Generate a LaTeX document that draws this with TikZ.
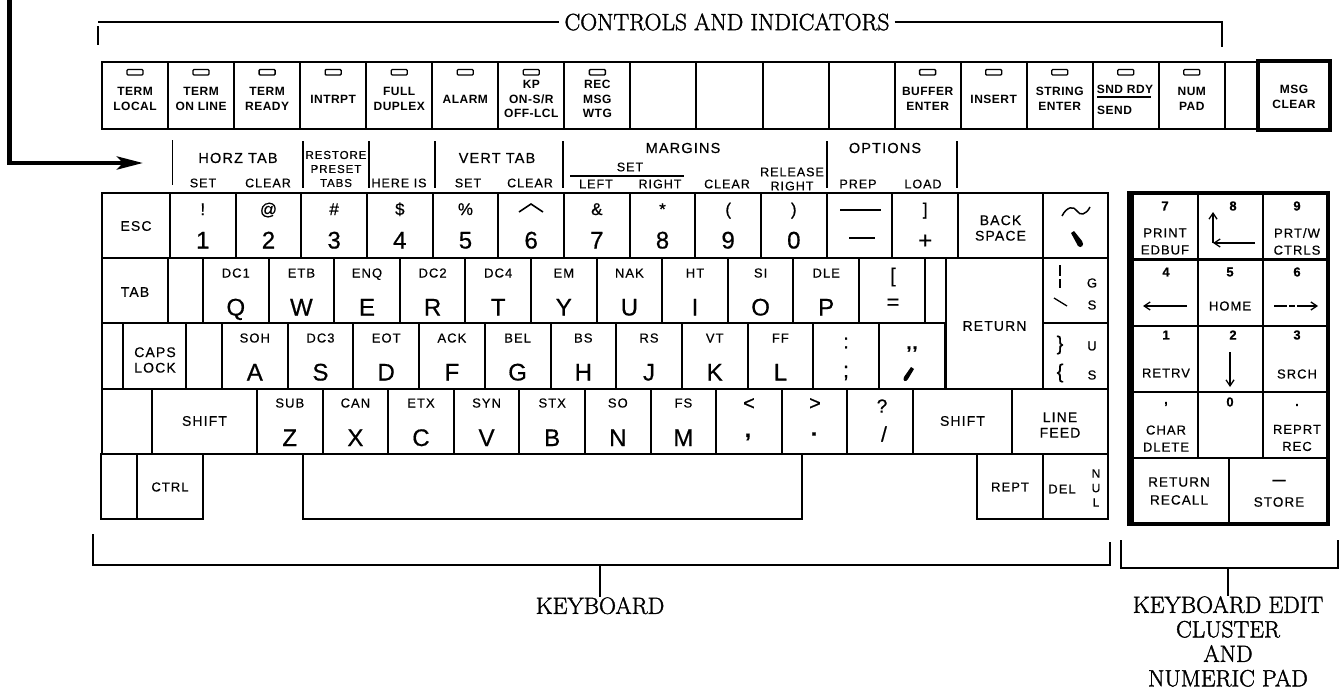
\documentclass[tikz,border=0pt]{standalone}
\usepackage{fontspec}
\usetikzlibrary{arrows.meta}
\newfontfamily\kf[LetterSpace=8,FakeBold=0.5]{Liberation Sans}
\newfontfamily\kfn[FakeBold=0.6]{Liberation Sans}
\newfontfamily\kfi[LetterSpace=4]{Liberation Sans}
\newfontfamily\hdf[FakeBold=1.6]{Latin Modern Roman}
\newcommand\fsz[2]{\fontsize{#1}{#2}\selectfont}
\begin{document}
\begin{tikzpicture}[x=1pt,y=-1pt,
  keyl/.style={draw,line width=2pt},
  thk/.style={draw,line width=4pt},
  sm/.style={font=\kf\fsz{13}{15}, inner sep=0pt, anchor=base},
  bigl/.style={font=\kfn\fsz{24}{26}, inner sep=0pt, anchor=base},
  sym/.style={font=\kfn\fsz{17}{19}, inner sep=0pt, anchor=base},
  wl/.style={font=\kf\fsz{14}{15.5}, inner sep=0pt, align=center},
  ind/.style={font=\kfi\bfseries\fsz{12}{14.5}, inner sep=0pt, align=center},
  hl/.style={font=\kf\fsz{14.5}{16}, inner sep=0pt},
  sl/.style={font=\kf\fsz{12.5}{14}, inner sep=0pt, align=center},
  np/.style={font=\kf\fsz{13}{17}, inner sep=0pt, align=center},
  npd/.style={font=\kfn\bfseries\fsz{13}{15}, inner sep=0pt},
  hd/.style={font=\hdf\fsz{23.5}{24.5}, inner sep=0pt, align=center},
  led/.style={draw,line width=1.3pt,rounded corners=1pt},
  sepl/.style={draw,line width=1.5pt},
  brk/.style={draw,line width=2.2pt},
  ar/.style={draw,line width=1.3pt,-{Straight Barb[length=6pt,width=8pt]}}
]
\useasboundingbox (0,0) rectangle (1341,691);

% ---------- CONTROLS AND INDICATORS bracket
\node[hd, inner sep=5pt] (ctl) at (727,22) {CONTROLS AND INDICATORS};
\draw[brk] (98,26) -- (98,45);
\coordinate (tl) at (98,22);
\coordinate (tr) at (1222,22);
\draw[brk] (tl) -- (ctl.west);
\draw[brk] (ctl.east) -- (tr) -- ++(0,25);

% ---------- left arrow
\coordinate (a0) at (9.5,0);
\coordinate (a1) at (143,163);
\draw[line width=4.5pt,-{Stealth[length=26pt,width=13pt,inset=6pt]}] (a0) |- (a1);

% ---------- indicator row
\foreach \i in {0,...,16}{\draw[keyl] ({102+\i*66.05},62) rectangle ({168.05+\i*66.05},129);}
\draw[keyl] (1224.85,62) rectangle (1258,129);
\draw[thk] (1258,61) rectangle (1330,130);
\foreach \i in {0,...,7,12,13,14,15,16}{\draw[led] ({127+\i*66.05},69.5) rectangle ++(16,5.5);}
\foreach \i/\t in {0/{TERM\\LOCAL},1/{TERM\\ON LINE},2/{TERM\\READY},3/{INTRPT},4/{FULL\\DUPLEX},5/{ALARM},6/{KP\\ON-S/R\\OFF-LCL},7/{REC\\MSG\\WTG},12/{BUFFER\\ENTER},13/{INSERT},14/{STRING\\ENTER},16/{NUM\\PAD}}
  {\node[ind] (ind\i) at ({135.03+\i*66.05},99) {\t};}
\node[ind] (snd) at (1125,89) {SND RDY};
\node[ind, anchor=west] (send) at (1097,110) {SEND};
\draw[line width=1.3pt] (1097,97) -- (1151,97);
\node[ind] (msg) at (1294,97) {MSG\\CLEAR};

% ---------- function label row
\draw[line width=1pt] (172,140) -- (172,185);
\foreach \x in {303,369,435,563,827,957}{\draw[sepl] (\x,141) -- (\x,188);}
\node[hl] (horz) at (238,158) {HORZ TAB};
\node[sl] (hset) at (203,183) {SET};
\node[sl] (hclr) at (268,183) {CLEAR};
\node[sl, font=\kf\fsz{11.5}{14}] (rst) at (336,169) {RESTORE\\PRESET\\TABS};
\node[sl] (here) at (399,183) {HERE IS};
\node[hl] (vert) at (497,158) {VERT TAB};
\node[sl] (vset) at (468,183) {SET};
\node[sl] (vclr) at (530,183) {CLEAR};
\node[hl] (marg) at (683,148) {MARGINS};
\node[sl] (mset) at (630,167) {SET};
\draw[line width=1.3pt] (570,176) -- (684,176);
\node[sl] (mlft) at (596,184) {LEFT};
\node[sl] (mrgt) at (660,184) {RIGHT};
\node[sl] (mclr) at (727,184) {CLEAR};
\node[sl] (rel) at (792,179) {RELEASE\\RIGHT};
\node[hl] (opt) at (885,148) {OPTIONS};
\node[sl] (prep) at (858,184) {PREP};
\node[sl] (load) at (923,184) {LOAD};

% ---------- row 0
\draw[keyl] (102,193) rectangle (170,258.2);
\node[wl] (esc) at (136,226) {ESC};
\foreach \i/\s/\m in {0/{!}/1,1/{@}/2,2/{\#}/3,3/{\$}/4,4/{\%}/5,5/{}/6,6/{\&}/7,7/{*}/8,8/{(}/9,9/{)}/0,10/{}/{},11/{]}/{+}}{
  \pgfmathsetmacro\xl{170+\i*65.67}
  \draw[keyl] (\xl,193) rectangle ++(65.67,65.2);
  \node[sym] (ns\i) at (\xl+32.8,215) {\s};
  \node[bigl] (nb\i) at (\xl+32.8,248.5) {\m};
}
\draw[line width=1.6pt] (519,212) -- (531,204) -- (543,212);
\draw[line width=2pt] (840,210) -- (881,210);
\draw[line width=2pt] (849,238) -- (875,238);
\draw[keyl] (958,193) rectangle (1043,258.2);
\node[wl] (bs) at (1000.5,228) {BACK\\SPACE};
\draw[keyl] (1043,193) rectangle (1108,258.2);
\draw[line width=1.5pt] (1062,216) .. controls (1067,206) and (1074,206) .. (1077,211) .. controls (1080,216) and (1086,215) .. (1090,207);
\fill (1071,233) -- (1074,231) -- (1082,241) .. controls (1085,245) and (1081,249) .. (1078,246) -- cycle;

% ---------- row 1
\draw[keyl] (102,258.2) rectangle (168,323.4);
\node[wl] (tab) at (135,292) {TAB};
\draw[keyl] (168,258.2) rectangle (203,323.4);
\foreach \i/\s/\m in {0/DC1/Q,1/ETB/W,2/ENQ/E,3/DC2/R,4/DC4/T,5/EM/Y,6/NAK/U,7/HT/I,8/SI/O,9/DLE/P}{
  \pgfmathsetmacro\xl{203+\i*65.6}
  \draw[keyl] (\xl,258.2) rectangle ++(65.6,65.2);
  \node[sm] (qs\i) at (\xl+32.8,277.5) {\s};
  \node[bigl] (qb\i) at (\xl+32.8,315.5) {\m};
}
\draw[keyl] (859,258.2) rectangle (924.6,323.4);
\node[font=\kfn\fsz{20}{22}, inner sep=0pt] (lbk) at (893,277) {[};
\node[font=\kfn\fsz{22}{24}, inner sep=0pt] (eq) at (893,304) {=};
\draw[keyl] (924.6,258.2) rectangle (946,323.4);
\draw[keyl] (946,258.2) rectangle (1043,388.6);
\node[wl] (ret) at (994.5,326) {RETURN};
\draw[keyl] (1043,258.2) rectangle (1108,323.4);
\draw[line width=1.3pt] (1060,265) -- (1060,276) (1060,279) -- (1060,288);
\draw[line width=1.3pt] (1054,298) -- (1067,306);
\node[sm, anchor=center] (gsg) at (1092,283) {G};
\node[sm, anchor=center] (gss) at (1092,305) {S};

% ---------- row 2
\draw[keyl] (102,323.4) rectangle (123,388.6);
\draw[keyl] (123,323.4) rectangle (186,388.6);
\node[wl] (caps) at (155,360) {CAPS\\LOCK};
\draw[keyl] (186,323.4) rectangle (222,388.6);
\foreach \i/\s/\m in {0/SOH/A,1/DC3/S,2/EOT/D,3/ACK/F,4/BEL/G,5/BS/H,6/RS/J,7/VT/K,8/FF/L}{
  \pgfmathsetmacro\xl{222+\i*65.7}
  \draw[keyl] (\xl,323.4) rectangle ++(65.7,65.2);
  \node[sm] (as\i) at (\xl+32.8,342.5) {\s};
  \node[bigl] (ab\i) at (\xl+32.8,380.5) {\m};
}
\draw[keyl] (813.3,323.4) rectangle (879,388.6);
\node[font=\kfn\fsz{20}{22}, inner sep=0pt] (col) at (846,343) {:};
\node[font=\kfn\fsz{22}{24}, inner sep=0pt] (scl) at (846,373) {;};
\draw[keyl] (879,323.4) rectangle (944.7,388.6);
\node[font=\kfn\bfseries\fsz{18}{20}, inner sep=0pt] (dq) at (912,349) {,\kern1pt,};
\fill (911,367) -- (914,369) -- (908,379) .. controls (906,383) and (902,381) .. (904,377) -- cycle;
\draw[keyl] (1043,323.4) rectangle (1108,388.6);
\node[font=\kfn\fsz{20}{22}, inner sep=0pt] (rbr) at (1060,345) {\}};
\node[font=\kfn\fsz{20}{22}, inner sep=0pt] (lbr) at (1060,373) {\{};
\node[sm, anchor=center] (uu) at (1092,346) {U};
\node[sm, anchor=center] (us) at (1092,375) {S};

% ---------- row 3
\draw[keyl] (102,388.6) rectangle (152,453.8);
\draw[keyl] (152,388.6) rectangle (257,453.8);
\node[wl] (lsh) at (204.5,421) {SHIFT};
\foreach \i/\s/\m in {0/SUB/Z,1/CAN/X,2/ETX/C,3/SYN/V,4/STX/B,5/SO/N,6/FS/M}{
  \pgfmathsetmacro\xl{257+\i*65.6}
  \draw[keyl] (\xl,388.6) rectangle ++(65.6,65.2);
  \node[sm] (zs\i) at (\xl+32.8,407.5) {\s};
  \node[bigl] (zb\i) at (\xl+32.8,446) {\m};
}
\draw[keyl] (716.2,388.6) rectangle (781.8,453.8);
\node[font=\kfn\fsz{20}{22}, inner sep=0pt] (lt) at (749,404) {<};
\node[font=\kfn\bfseries\fsz{22}{24}, inner sep=0pt] (cm) at (748,437) {,};
\draw[keyl] (781.8,388.6) rectangle (847.4,453.8);
\node[font=\kfn\fsz{20}{22}, inner sep=0pt] (gt) at (815,404) {>};
\node[font=\kfn\bfseries\fsz{22}{24}, inner sep=0pt] (pt) at (814,434) {.};
\draw[keyl] (847.4,388.6) rectangle (913,453.8);
\node[font=\kfn\fsz{19}{22}, inner sep=0pt] (qm) at (882,406) {?};
\node[font=\kfn\fsz{21}{22}, inner sep=0pt] (sl) at (884,434) {/};
\draw[keyl] (913,388.6) rectangle (1012,453.8);
\node[wl] (rsh) at (962.5,421) {SHIFT};
\draw[keyl] (1012,388.6) rectangle (1108,453.8);
\node[wl] (lf) at (1060,425) {LINE\\FEED};

% ---------- row 4
\draw[keyl] (101,453.8) rectangle (137,519);
\draw[keyl] (137,453.8) rectangle (203,519);
\node[wl, font=\kf\fsz{13}{15}] (ctrl) at (170,487) {CTRL};
\draw[keyl] (303,453.8) -- (303,519) -- (802,519) -- (802,453.8);
\draw[keyl] (977,453.8) rectangle (1043,519);
\node[wl, font=\kf\fsz{13}{15}] (rept) at (1010,487) {REPT};
\draw[keyl] (1043,453.8) rectangle (1108,519);
\node[wl, font=\kf\fsz{13}{15}] (del) at (1062,489) {DEL};
\node[wl, font=\kfn\fsz{12}{14.5}] (nul) at (1096,488) {N\\U\\L};

% ---------- numeric pad
\draw[line width=1.8pt] (1198,193) -- (1198,458) (1263,193) -- (1263,458) (1229,458) -- (1229,524);
\foreach \y in {259.5,326,392,458}{\draw[line width=2.8pt] (1129,\y) -- (1328,\y);}
\draw[line width=3.5pt] (1129,193) rectangle (1328,524);
\draw[line width=6pt] (1131,193) -- (1131,524);
\node[npd] (n7) at (1165,206) {7};
\node[np] (pe) at (1165,241.5) {PRINT\\EDBUF};
\node[npd] (n8) at (1233,206) {8};
\coordinate (c8) at (1213,243);
\coordinate (c8r) at (1255,243);
\coordinate (c8u) at (1213,212);
\draw[ar] (c8) -- (c8u);
\draw[ar] (c8r) -- (c8);
\node[npd] (n9) at (1297,206) {9};
\node[np] (pc) at (1297,241.5) {PRT/W\\CTRLS};
\node[npd] (n4) at (1166,272) {4};
\draw[ar] (1187,306) -- (1143,306);
\node[npd] (n5) at (1230,272) {5};
\node[np] (home) at (1230,306) {HOME};
\node[npd] (n6) at (1297,272) {6};
\draw[ar, dash pattern=on 13pt off 2pt on 6pt off 2pt on 40pt] (1274,306) -- (1318,306);
\node[npd] (n1) at (1166,335) {1};
\node[np] (rtv) at (1166,373) {RETRV};
\node[npd] (n2) at (1233,335) {2};
\draw[ar] (1230,352) -- (1230,387);
\node[npd] (n3) at (1297,335) {3};
\node[np] (srch) at (1297,374) {SRCH};
\node[npd] (ncm) at (1166,404) {,};
\node[np] (chd) at (1166,438.5) {CHAR\\DLETE};
\node[npd] (n0) at (1230,402) {0};
\node[npd] (ndt) at (1297,405) {.};
\node[np] (rpr) at (1297,438) {REPRT\\REC};
\node[np, font=\kf\fsz{13.5}{18}] (rrc) at (1179,491) {RETURN\\RECALL};
\node[npd] (dsh) at (1279,482) {—};
\node[np, font=\kf\fsz{13.5}{18}] (sto) at (1279,502) {STORE};

% ---------- bottom brackets
\draw[brk] (93,534) -- (93,565) -- (1110,565) -- (1110,542);
\node[hd, anchor=north] (kb) at (600,597) {KEYBOARD};
\coordinate (kbc) at (600,565);
\draw[brk] (kbc) -- (kb.north);
\draw[brk] (1121,540) -- (1121,568) -- (1338,568) -- (1338,540);
\node[hd, anchor=north] (kec) at (1228,596) {KEYBOARD EDIT\\CLUSTER\\AND\\NUMERIC PAD};
\coordinate (kecc) at (1228,568);
\draw[brk] (kecc) -- (kec.north);
\end{tikzpicture}
\end{document}
